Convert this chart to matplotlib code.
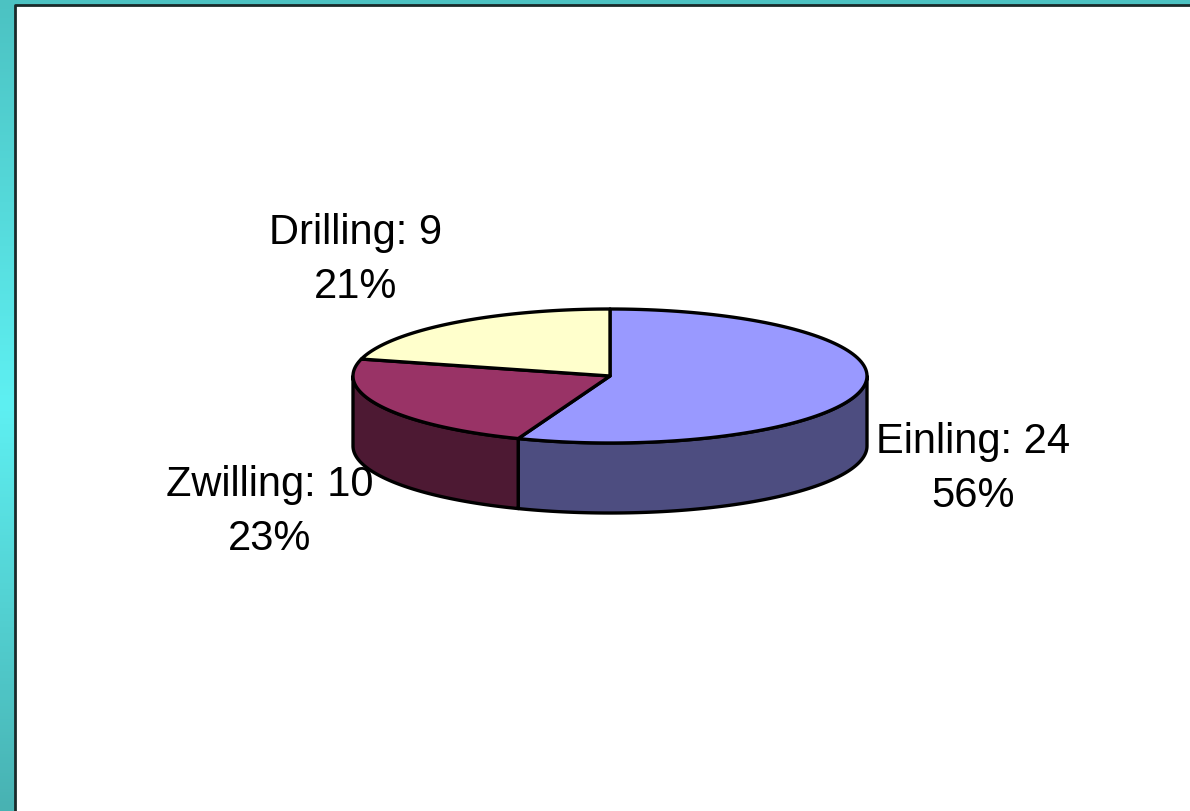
import numpy as np
import matplotlib.pyplot as plt
from matplotlib.patches import Polygon, Rectangle
from matplotlib.colors import LinearSegmentedColormap

# birth type counts
labels = ['Einling', 'Zwilling', 'Drilling']
counts = [24, 10, 9]
top_colors = ['#9999FF', '#993366', '#FFFFCC']
side_colors = ['#4D4D80', '#4D1933', '#80806A']

W, H = 1190, 812
fig = plt.figure(figsize=(W / 100, H / 100), dpi=100)
ax = fig.add_axes([0, 0, 1, 1])
ax.set_xlim(0, W)
ax.set_ylim(H, 0)
ax.axis('off')

# teal gradient frame behind the white panel
cmap = LinearSegmentedColormap.from_list('frame', ['#4cc2c2', '#5ef0f2', '#48b2b2'])
grad = np.linspace(0, 1, 256).reshape(-1, 1)
ax.imshow(grad, cmap=cmap, extent=[0, W, H, 0], aspect='auto', zorder=0)
ax.add_patch(Rectangle((15, 6), W - 15, H - 6, facecolor='white', edgecolor='none', zorder=1))
ax.plot([15, 15, W], [H, 6, 6], color='#1a2a2a', lw=2.0, zorder=2)

# pie geometry (pixel space)
cx, cy, rx, ry, depth = 610, 377, 257, 67, 70
total = sum(counts)
fracs = [c / total for c in counts]


def arc(t1, t2, n=120, dy=0):
    t = np.radians(np.linspace(t1, t2, n))
    return np.column_stack([cx + rx * np.cos(t), cy - ry * np.sin(t) + dy])


start = 90.0
wedges = []
for f in fracs:
    end = start - 360 * f
    wedges.append((start, end))
    start = end

# side walls: only the front half (-180..0 deg) is visible
for (t1, t2), sc in zip(wedges, side_colors):
    hi, lo = max(t1, t2), min(t1, t2)
    for shift in (0, -360, 360):
        a, b = max(lo + shift, -180), min(hi + shift, 0)
        if b > a:
            top = arc(a, b)
            bot = arc(b, a, dy=depth)
            ax.add_patch(Polygon(np.vstack([top, bot]), closed=True, facecolor=sc,
                                 edgecolor='black', lw=2.4, joinstyle='round', zorder=3))

# top faces
for (t1, t2), tc in zip(wedges, top_colors):
    pts = np.vstack([[cx, cy], arc(t1, t2)])
    ax.add_patch(Polygon(pts, closed=True, facecolor=tc, edgecolor='black',
                         lw=2.4, joinstyle='round', zorder=4))

# data labels
label_pos = [(973, 469), (270, 512), (356, 260)]
for name, c, f, (lx, ly) in zip(labels, counts, fracs, label_pos):
    ax.text(lx, ly, f'{name}: {c}\n{round(100 * f)}%', ha='center', va='center',
            fontsize=30, family='Liberation Sans', linespacing=1.42, zorder=5)

fig.savefig('out.png', dpi=100)
